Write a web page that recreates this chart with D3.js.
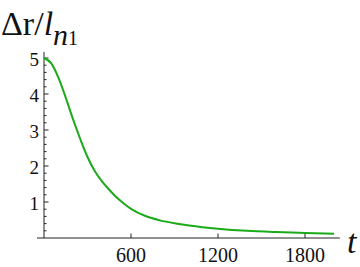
<!DOCTYPE html>
<html>
<head>
<meta charset="utf-8">
<script src="https://cdn.jsdelivr.net/npm/d3@7"></script>
</head>
<body style="margin:0; background:#fff">
<div id="chart"></div>
<script>
// curve
const tValues = [0, 50, 100, 150, 200, 250, 300, 350, 400, 450, 500, 550, 600, 700, 800, 900, 1000, 1200, 1400, 1600, 1800, 2000];
const rValues = [5.0, 4.85, 4.45, 3.9, 3.3, 2.75, 2.25, 1.86, 1.57, 1.34, 1.13, 0.96, 0.81, 0.61, 0.49, 0.41, 0.35, 0.26, 0.2, 0.165, 0.14, 0.12];
const xTicks = [600, 1200, 1800];
const yTicks = [1, 2, 3, 4, 5];

const width = 360, height = 267;
const serif = "Liberation Serif";

const svg = d3.select("#chart")
    .append("svg")
    .attr("width", width)
    .attr("height", height);

const x = d3.scaleLinear().domain([0, 2000]).range([44, 334]);
const y = d3.scaleLinear().domain([0, 5]).range([238, 58]);

const axisColor = "#222";

// x axis line (runs a bit past the y axis, like the original)
svg.append("line")
    .attr("x1", x(-48)).attr("x2", x(2040))
    .attr("y1", y(0)).attr("y2", y(0))
    .attr("stroke", axisColor).attr("stroke-width", 1);

// y axis line
svg.append("line")
    .attr("x1", x(0)).attr("x2", x(0))
    .attr("y1", y(0)).attr("y2", y(5.17))
    .attr("stroke", axisColor).attr("stroke-width", 1);

// x ticks go up from the axis
svg.append("g")
    .selectAll("line")
    .data(xTicks)
    .join("line")
    .attr("x1", d => x(d)).attr("x2", d => x(d))
    .attr("y1", y(0)).attr("y2", y(0) - 4.5)
    .attr("stroke", axisColor);

svg.append("g")
    .selectAll("text")
    .data(xTicks)
    .join("text")
    .attr("x", d => x(d))
    .attr("y", 262)
    .attr("text-anchor", "middle")
    .attr("font-family", serif)
    .style("font-size", "20px")
    .attr("fill", "#111")
    .text(d => d);

// y minor ticks every 0.2, major every 1
const yMinor = d3.range(1, 26).map(i => i / 5).filter(v => Math.abs(v - Math.round(v)) > 1e-6);
svg.append("g")
    .selectAll("line")
    .data(yMinor)
    .join("line")
    .attr("x1", x(0)).attr("x2", x(0) + 2.5)
    .attr("y1", d => y(d)).attr("y2", d => y(d))
    .attr("stroke", axisColor);

svg.append("g")
    .selectAll("line")
    .data(yTicks)
    .join("line")
    .attr("x1", x(0)).attr("x2", x(0) + 4.5)
    .attr("y1", d => y(d)).attr("y2", d => y(d))
    .attr("stroke", axisColor);

svg.append("g")
    .selectAll("text")
    .data(yTicks)
    .join("text")
    .attr("x", 39)
    .attr("y", d => y(d) + 7.5)
    .attr("text-anchor", "end")
    .attr("font-family", serif)
    .style("font-size", "19px")
    .attr("fill", "#111")
    .text(d => d);

// the curve
const pts = tValues.map((t, i) => [t, rValues[i]]);
svg.append("path")
    .datum(pts)
    .attr("fill", "none")
    .attr("stroke", "#1aaa1a")
    .attr("stroke-width", 2)
    .attr("d", d3.line()
        .x(d => x(d[0]))
        .y(d => y(d[1]))
        .curve(d3.curveMonotoneX));

// y label: Δr / l_{n_1}
const ylab = svg.append("text")
    .attr("x", 1)
    .attr("y", 35)
    .attr("font-family", serif)
    .style("font-size", "34px")
    .attr("fill", "#111");
ylab.append("tspan").text("Δr/");
ylab.append("tspan").style("font-style", "italic").text("l");
ylab.append("tspan").style("font-style", "italic").style("font-size", "30px").attr("dy", 10).text("n");
ylab.append("tspan").style("font-size", "20px").text("1");

// x label
svg.append("text")
    .attr("x", 347)
    .attr("y", 253)
    .attr("font-family", serif)
    .style("font-size", "34px")
    .style("font-style", "italic")
    .attr("fill", "#111")
    .text("t");
</script>
</body>
</html>
